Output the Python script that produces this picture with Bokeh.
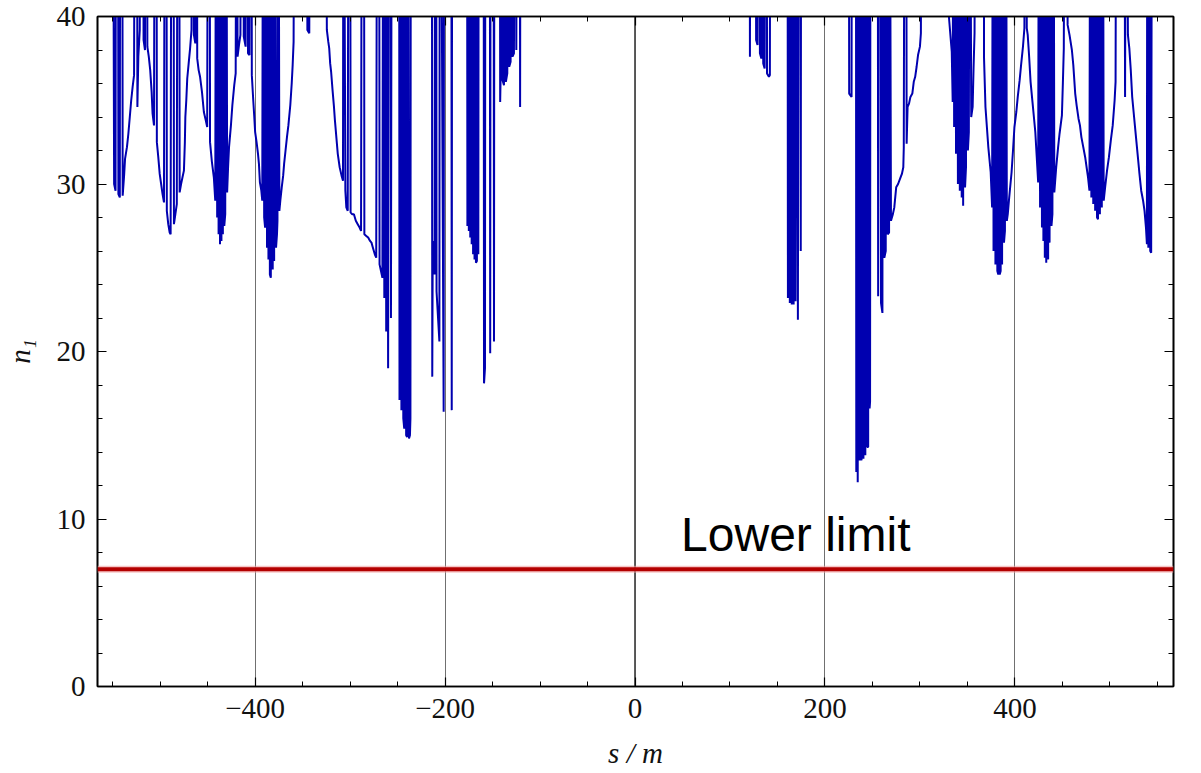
from bokeh.plotting import figure
from bokeh.models import (FixedTicker, Span, Label, LinearAxis, Range1d, ColumnDataSource,
                          CustomJSTickFormatter)
from bokeh.embed import file_html
from bokeh.resources import INLINE

# ---------------- data ----------------
# n1 values above 40 are off the top of the plot (drawn as 60, clipped)
x_major = [-400, -200, 0, 200, 400]
x_minor = [-550, -500, -450, -350, -300, -250, -150, -100, -50,
           50, 100, 150, 250, 300, 350, 450, 500, 550]
x_labels = {-400: "\u2212400", -200: "\u2212200", 0: "0", 200: "200", 400: "400"}
y_major = [0, 10, 20, 30, 40]
y_minor = [2, 4, 6, 8, 12, 14, 16, 18, 22, 24, 26, 28, 32, 34, 36, 38]
lower_limit = 7

seg_a = [(-566, 60), (-550, 60), (-548.5, 30.0), (-547, 29.6), (-546.5, 60), (-544.5, 60),
         (-544, 29.4), (-542.5, 29.2), (-542, 60), (-540, 60), (-539.5, 29.3), (-538, 30.5),
         (-537, 31.5), (-535, 32.2), (-533.5, 33.0), (-532, 34.0), (-530.5, 35.0), (-529, 35.8),
         (-527.5, 36.5), (-526.5, 60), (-524.5, 60), (-524, 34.6), (-523, 37.6), (-521.5, 39.2),
         (-520.5, 60), (-518, 60), (-517.5, 38.6), (-516, 38.0), (-515.5, 60), (-514, 60),
         (-513.5, 38.2), (-512, 37.6), (-510.5, 36.8), (-509, 35.5), (-508, 34.2), (-506.5, 33.5),
         (-505.5, 60), (-504, 60), (-503.5, 32.5), (-502, 31.6), (-500.5, 30.6), (-499, 30.0),
         (-497.5, 29.4), (-496, 28.9), (-495, 60), (-493.5, 60), (-493, 28.4), (-491.5, 27.6),
         (-490, 27.1), (-489, 27.0), (-488, 60), (-486, 60), (-485.5, 27.6), (-484, 28.2),
         (-482.5, 28.8), (-481.5, 60), (-480, 60), (-479.5, 29.5), (-478, 30.0), (-476.5, 30.4),
         (-475, 30.8), (-474, 32.5), (-473.5, 34.0), (-472.5, 35.0), (-471.5, 36.3), (-470, 37.2),
         (-468.5, 38.1), (-467, 39.2), (-466, 60), (-465, 60), (-464.5, 38.9), (-463, 38.4),
         (-462.5, 60), (-461.5, 60), (-461, 37.5)]

seg_b = [(-459.5, 36.8), (-458, 36.4), (-456, 35.5), (-454, 34.3), (-452, 33.8), (-450.5, 33.4),
         (-449.5, 60), (-448, 60), (-447.5, 32.5), (-445.5, 31.3), (-443.5, 30.4), (-442, 29.0),
         (-441, 60), (-440, 28.0), (-439, 60), (-438.5, 27.0), (-437.5, 60), (-437, 26.4),
         (-436, 60), (-435.5, 26.6), (-434.5, 60), (-434, 27.0), (-433, 60), (-432.5, 27.5),
         (-431.5, 28.2), (-430.5, 60), (-429.5, 29.5), (-428.5, 31.0), (-427.5, 32.2),
         (-425.5, 33.5), (-424, 34.7), (-422, 35.9), (-420.5, 36.6), (-419.5, 60), (-418.5, 37.6),
         (-417, 38.3), (-415.5, 38.9), (-414, 60), (-412.5, 60), (-412, 38.8), (-410, 38.2),
         (-409.5, 60), (-408, 60), (-407.5, 37.8), (-406, 37.7), (-405.5, 60), (-404, 60),
         (-403.5, 36.5), (-402, 35.0), (-401, 34.1), (-400, 33.1), (-398.5, 32.5), (-397, 31.8),
         (-396, 31.2), (-395, 30.1), (-393.5, 29.6), (-392.5, 29.0), (-391.5, 60), (-390.5, 28.0),
         (-389.5, 27.4), (-388.5, 60), (-387.5, 26.2), (-386.5, 60), (-386, 25.5), (-385, 60),
         (-384.5, 24.6), (-383.5, 24.4), (-382.5, 60), (-381.5, 24.9), (-380.5, 60), (-380, 25.4),
         (-379, 60), (-378, 26.2), (-377, 27.0), (-376.5, 27.8), (-375.5, 60), (-374.5, 28.4),
         (-373.5, 29.0), (-372, 29.8), (-370.5, 30.5), (-369.5, 31.2), (-368, 32.0),
         (-366.5, 32.8), (-365, 33.5), (-363, 34.7), (-361.5, 36.0), (-360.5, 37.1),
         (-359.5, 38.5), (-358.5, 60)]

seg_c = [(-346, 60), (-345, 39.2), (-343, 39.0), (-342, 60), (-326, 60), (-324.5, 39.2),
         (-323, 38.5), (-322, 38.1), (-321, 37.2), (-320, 36.7), (-318.5, 35.6), (-317, 34.6),
         (-316, 33.8), (-314.5, 32.8), (-313, 31.8), (-311, 31.0), (-309, 30.5), (-307.5, 30.2),
         (-307, 60), (-305, 29.6), (-304, 28.6), (-302.5, 28.4), (-301.5, 60), (-300, 60),
         (-299.5, 28.3), (-298, 28.2), (-296, 28.2), (-294, 27.8), (-292, 27.6), (-290, 27.4),
         (-288.5, 27.2), (-287.5, 60), (-285.5, 60), (-285, 27.0), (-283, 26.9), (-281, 26.8),
         (-279, 26.6), (-277.5, 26.5), (-276, 26.2), (-274, 25.8), (-272.5, 25.6), (-271.5, 60),
         (-269.5, 60), (-269, 25.2), (-267.5, 24.8), (-266, 24.4), (-265, 60), (-264, 23.2),
         (-263, 60), (-262, 21.2), (-261, 60), (-260, 19.0), (-259, 60), (-257.5, 60),
         (-257, 22.0), (-256, 60), (-248.5, 60), (-248, 17.1), (-247, 60), (-246, 16.5),
         (-245, 60), (-244, 16.0), (-243, 15.4), (-242, 60), (-241, 15.0), (-240, 14.9),
         (-239, 60), (-238, 14.8), (-237, 15.0), (-236.5, 16.0), (-236, 60)]

seg_d = [(-214, 60), (-213.5, 18.5), (-213, 26.6), (-211, 24.6), (-210.5, 60), (-209.5, 60),
         (-209, 23.6), (-206, 20.6), (-205.5, 60), (-205, 60), (-201.5, 16.4), (-201, 60),
         (-193.5, 60), (-193, 16.5), (-192.5, 60), (-177, 60), (-176.5, 27.5), (-176, 60),
         (-175, 27.2), (-174, 60), (-173.5, 26.8), (-172.5, 60), (-172, 26.4), (-171, 60),
         (-170.5, 25.8), (-169.5, 60), (-169, 25.5), (-168, 60), (-167.5, 25.3), (-166.5, 25.4),
         (-165.5, 60), (-165, 25.8), (-164.5, 60), (-159.5, 60), (-159, 18.1), (-158, 19.0),
         (-157.5, 60), (-153, 60), (-152.5, 19.9), (-152, 60), (-149, 60), (-148.5, 20.6),
         (-148, 60), (-142.5, 60), (-142, 34.9), (-141.5, 36.5), (-140.5, 60), (-139.5, 36.2),
         (-138, 35.9), (-137, 60), (-136, 36.1), (-134.5, 36.6), (-133.5, 60), (-132.5, 37.0),
         (-131, 37.3), (-130, 60), (-129, 37.6), (-127.5, 37.8), (-126.5, 60), (-125, 38.0),
         (-124, 60), (-121.5, 60), (-121, 34.6), (-120.5, 60)]

seg_e = [(120.5, 60), (121, 37.6), (121.5, 60), (127, 60), (127.5, 38.6), (129, 38.3),
         (129.5, 60), (131, 60), (131.5, 37.8), (133, 37.5), (134, 60), (135, 37.2),
         (136.5, 36.9), (137.5, 60), (138.5, 60), (139, 36.6), (141, 36.4), (142, 36.5),
         (142.5, 60), (160.5, 60), (161, 23.2), (162, 60), (163, 22.9), (164, 60), (165, 22.8),
         (166, 60), (167, 22.8), (168, 60), (169, 23.0), (170, 60), (171.5, 21.9), (172.5, 60),
         (174, 60), (174.5, 26.0), (175, 60), (225, 60), (225.5, 35.4), (228, 35.2), (228.5, 60),
         (232.5, 60), (233, 12.8), (234, 60), (234.5, 12.2), (235.5, 60), (236.5, 13.5),
         (237.5, 60), (238.5, 13.5), (239.5, 60), (240.5, 13.6), (241.5, 60), (242.5, 13.8),
         (243.5, 60), (244.5, 14.3), (245.5, 14.3), (246, 60), (247, 16.6), (247.5, 17.0),
         (248, 60), (255.5, 60), (256, 23.3), (257, 60), (258.5, 60), (259, 22.9), (260.5, 22.3),
         (261, 60), (262, 60), (262.5, 25.6), (264, 26.0), (264.5, 60), (265.5, 60), (266, 27.0),
         (267.5, 27.1), (268, 60), (269.5, 27.8), (271.5, 28.2), (273, 28.6), (275, 29.8),
         (277, 30.0), (279, 30.3), (281, 30.6), (282.5, 31.0), (283, 32.2), (284, 60),
         (285.5, 60), (286, 32.4), (287, 34.6), (288.5, 34.8), (290, 35.2), (292, 35.4),
         (293.5, 36.1), (295, 36.4), (296.5, 37.0), (298, 37.7), (300, 38.2), (301, 39.0),
         (302, 60)]

seg_f = [(330, 60), (330.5, 40.0), (333.5, 37.9), (334.5, 34.9), (335.5, 60), (336, 33.4),
         (337, 60), (338, 31.8), (339, 60), (340, 30.0), (341, 60), (342, 29.6), (343, 60),
         (344, 29.2), (345, 60), (345.5, 28.7), (346.5, 60), (347.5, 29.8), (348.5, 31.0),
         (349.5, 60), (350.5, 32.0), (351.5, 33.1), (352.5, 60), (354, 34.0), (355.5, 34.6),
         (356.5, 37.0), (357.5, 39.0), (358.5, 60), (367, 60), (367.5, 37.5), (369, 34.6),
         (370.5, 33.4), (372, 32.2), (374.5, 30.7), (376, 28.6), (377, 60), (377.5, 26.0),
         (378.5, 60), (379.5, 25.2), (380.5, 60), (381.5, 24.8), (382.5, 24.6), (383.5, 60),
         (384, 24.6), (385, 24.8), (385.5, 60), (386.5, 25.2), (387.5, 60), (388.5, 26.5),
         (389.5, 27.2), (390.5, 60), (391.5, 27.8), (392.5, 28.2), (394, 29.2), (396.5, 30.7),
         (398, 32.0), (399.5, 33.4), (401.5, 34.3), (403, 35.2), (405, 36.2), (406.5, 37.1),
         (408.5, 38.2), (410, 39.3), (411, 60), (412, 60), (412.5, 39.3), (413.5, 38.9),
         (415, 37.6), (416.5, 36.1), (418.5, 34.9), (420, 34.0), (421.5, 33.1), (423, 31.6),
         (424.5, 30.1), (425.5, 60), (426.5, 28.6), (427.5, 60), (428.5, 27.4), (429.5, 60),
         (430, 26.6), (431, 60), (431.5, 25.6), (432.5, 60), (433, 25.3), (434, 60), (435, 25.5),
         (436, 60), (436.5, 26.5), (437.5, 60), (438.5, 27.5), (439.5, 28.2), (440.5, 60),
         (441.5, 29.5), (443.5, 31.0), (445.5, 32.2), (447, 33.0), (449.5, 34.1), (450.5, 36.0),
         (451.5, 38.1), (452.5, 60), (455, 60), (455.5, 39.5), (457.5, 38.9), (460, 38.0),
         (461.5, 37.1), (463.5, 35.4), (465, 34.7), (467, 33.9), (468.5, 33.5), (470, 32.8),
         (472, 32.2), (474, 31.6), (475.5, 31.0), (477, 30.4), (478.5, 29.6), (479.5, 60),
         (480.5, 29.2), (481.5, 60), (482.5, 28.8), (483.5, 60), (484.5, 28.4), (485.5, 60),
         (486.5, 28.0), (487.5, 27.9), (488.5, 60), (489.5, 28.2), (490.5, 60), (491.5, 28.6),
         (492.5, 60), (493.5, 29.0), (495, 29.8), (497, 30.8), (499, 31.6), (501, 32.6),
         (503, 33.5), (505, 35.0), (506, 36.1), (507, 60), (515, 60), (516, 35.2), (517, 60),
         (519, 38.9), (520.5, 38.1), (522, 36.8), (523.5, 35.2), (525, 34.3), (526.5, 33.4),
         (528, 32.5), (529.5, 31.6), (531, 30.7), (533, 29.6), (535, 29.0), (536.5, 28.4),
         (538, 27.4), (539, 26.4), (539.5, 60), (540.5, 26.2), (541.5, 60), (542.5, 26.0),
         (543.5, 25.9), (544.5, 60), (566, 60)]

segments = [seg_a, seg_b, seg_c, seg_d, seg_e, seg_f]
s_vals = [pt[0] for seg in segments for pt in seg]
n_vals = [pt[1] for seg in segments for pt in seg]
src = ColumnDataSource(data=dict(s=s_vals, n1=n_vals))

# ---------------- figure ----------------
SERIF = "Liberation Serif"
p = figure(width=1201, height=773, x_range=Range1d(-566, 567), y_range=Range1d(0, 40),
           output_backend="svg", toolbar_location=None,
           min_border_left=96, min_border_right=28, min_border_top=16, min_border_bottom=87)
p.background_fill_color = "white"
p.border_fill_color = "white"
p.outline_line_color = "black"
p.outline_line_width = 1.6

p.ygrid.visible = False
p.xgrid.ticker = FixedTicker(ticks=[-400, -200, 200, 400])
p.xgrid.grid_line_color = "#707070"
p.xgrid.grid_line_width = 1
p.add_layout(Span(location=0, dimension="height", line_color="#303030",
                  line_width=1.6, level="underlay"))

def style_axis(ax, ticks, minor, show_labels):
    ax.ticker = FixedTicker(ticks=ticks, minor_ticks=minor)
    ax.major_tick_in = 9
    ax.major_tick_out = 0
    ax.minor_tick_in = 5
    ax.minor_tick_out = 0
    ax.axis_line_color = "black"
    ax.axis_line_width = 1.6
    ax.major_tick_line_color = "black"
    ax.minor_tick_line_color = "black"
    ax.major_tick_line_width = 1.2
    ax.minor_tick_line_width = 1
    if show_labels:
        ax.major_label_text_font = SERIF
        ax.major_label_text_font_size = "29px"
        ax.major_label_text_color = "#111111"
        ax.major_label_standoff = 12
    else:
        ax.formatter = CustomJSTickFormatter(code="return '';")
        ax.major_label_standoff = 0

xb = p.xaxis[0]
style_axis(xb, x_major, x_minor, True)
xb.major_label_overrides = x_labels
xb.major_label_standoff = 12
xb.axis_label = "s / m"
xb.axis_label_text_font = SERIF
xb.axis_label_text_font_style = "italic"
xb.axis_label_text_font_size = "29px"
xb.axis_label_text_color = "#111111"
xb.axis_label_standoff = 16

yl = p.yaxis[0]
style_axis(yl, y_major, y_minor, True)
yl.axis_label = "n\u2081"
yl.axis_label_text_font = SERIF
yl.axis_label_text_font_style = "italic"
yl.axis_label_text_font_size = "29px"
yl.axis_label_text_color = "#111111"
yl.axis_label_standoff = 18

xt = LinearAxis()
style_axis(xt, x_major, x_minor, False)
p.add_layout(xt, "above")
yr = LinearAxis()
style_axis(yr, y_major, y_minor, False)
p.add_layout(yr, "right")

# lower limit
p.add_layout(Span(location=lower_limit, dimension="width", line_color="#f0a0a0",
                  line_width=7, line_alpha=0.6))
p.add_layout(Span(location=lower_limit, dimension="width", line_color="#b40000",
                  line_width=3.8))

p.line("s", "n1", source=src, line_color="#0000b0", line_width=2.0)

p.add_layout(Label(x=48.5, y=9.05, text="Lower limit", text_font="Liberation Sans",
                   text_font_size="48px", text_color="black", text_baseline="alphabetic"))

open("out.html", "w").write(file_html(p, INLINE))
